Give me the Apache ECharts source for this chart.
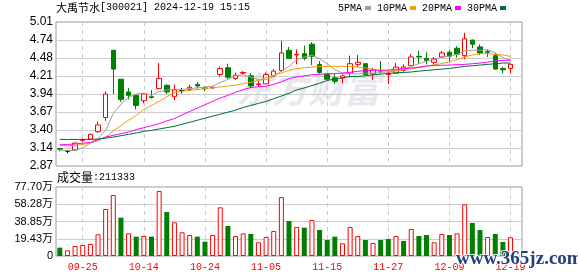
<!DOCTYPE html>
<html><head><meta charset="utf-8">
<script src="https://cdn.jsdelivr.net/npm/echarts@6/dist/echarts.min.js"></script>
<style>html,body{margin:0;padding:0;background:#fff;}#c{width:578px;height:276px;}</style>
</head><body><div id="c"></div>
<script>
const titleName = '大禹节水';
const titleInfo = '[300021] 2024-12-19 15:15';
const volLabel = '成交量';
const volLast = ':211333';
const dates = ['09-20','09-23','09-24','09-25','09-26','09-27','09-30','10-08','10-09','10-10','10-11','10-14','10-15','10-16','10-17','10-18','10-21','10-22','10-23','10-24','10-25','10-28','10-29','10-30','10-31','11-01','11-04','11-05','11-06','11-07','11-08','11-11','11-12','11-13','11-14','11-15','11-18','11-19','11-20','11-21','11-22','11-25','11-26','11-27','11-28','11-29','12-02','12-03','12-04','12-05','12-06','12-09','12-10','12-11','12-12','12-13','12-16','12-17','12-18','12-19'];
const open  = [3.13,3.09,3.11,3.25,3.27,3.38,3.59,4.59,4.16,3.97,3.92,3.84,3.90,4.02,4.07,3.90,3.99,4.01,4.08,4.03,4.03,4.23,4.33,4.17,4.25,4.21,4.08,4.09,4.21,4.29,4.59,4.52,4.54,4.68,4.38,4.23,4.18,4.18,4.25,4.38,4.39,4.24,4.29,4.23,4.25,4.29,4.36,4.50,4.47,4.41,4.49,4.56,4.62,4.51,4.74,4.64,4.57,4.51,4.32,4.32];
const close = [3.12,3.09,3.21,3.26,3.34,3.48,3.94,4.31,3.86,3.92,3.77,3.94,3.89,4.17,3.97,4.00,3.99,4.04,4.06,4.02,4.04,4.32,4.19,4.22,4.26,4.06,4.09,4.23,4.28,4.55,4.47,4.53,4.47,4.50,4.26,4.16,4.13,4.21,4.39,4.41,4.23,4.30,4.28,4.25,4.34,4.34,4.49,4.49,4.44,4.46,4.55,4.50,4.53,4.76,4.68,4.55,4.56,4.31,4.30,4.38];
const low   = [3.09,3.06,3.10,3.23,3.26,3.36,3.54,3.94,3.82,3.86,3.71,3.80,3.87,4.01,3.94,3.85,3.95,3.985,4.02,3.98,4.02,4.20,4.16,4.15,4.22,4.03,4.05,4.09,4.19,4.27,4.46,4.38,4.44,4.37,4.24,4.15,4.09,4.10,4.19,4.34,4.22,4.15,4.24,4.09,4.24,4.27,4.36,4.39,4.38,4.38,4.48,4.42,4.48,4.46,4.62,4.52,4.49,4.30,4.25,4.25];
const high  = [3.14,3.11,3.22,3.28,3.35,3.53,3.98,4.59,4.16,4.03,3.93,3.95,4.00,4.40,4.08,4.08,4.03,4.08,4.12,4.05,4.06,4.35,4.39,4.26,4.28,4.25,4.13,4.26,4.31,4.73,4.64,4.60,4.66,4.71,4.43,4.24,4.24,4.23,4.51,4.52,4.40,4.33,4.43,4.27,4.40,4.38,4.53,4.58,4.56,4.49,4.58,4.59,4.65,4.85,4.75,4.68,4.60,4.55,4.34,4.38];
const ma5  = [3.11,3.10,3.10,3.14,3.21,3.275,3.40,3.65,3.79,3.89,3.94,3.955,3.92,3.975,4.00,4.01,4.01,4.02,4.03,4.045,4.055,4.11,4.16,4.21,4.227,4.19,4.153,4.153,4.20,4.28,4.35,4.45,4.49,4.515,4.465,4.39,4.30,4.25,4.24,4.24,4.25,4.25,4.26,4.27,4.28,4.306,4.35,4.39,4.43,4.45,4.49,4.50,4.53,4.58,4.59,4.59,4.60,4.55,4.48,4.44];
const ma10 = [3.177,3.172,3.177,3.19,3.21,3.25,3.30,3.39,3.47,3.55,3.62,3.71,3.77,3.83,3.90,3.96,3.985,3.995,4.005,4.02,4.035,4.044,4.06,4.07,4.094,4.113,4.143,4.183,4.217,4.252,4.292,4.317,4.331,4.34,4.35,4.35,4.35,4.35,4.35,4.34,4.326,4.306,4.29,4.282,4.292,4.30,4.317,4.331,4.35,4.376,4.39,4.42,4.45,4.49,4.52,4.54,4.54,4.53,4.52,4.50];
const ma20 = [3.192,3.19,3.197,3.21,3.22,3.26,3.30,3.325,3.35,3.375,3.41,3.44,3.47,3.50,3.54,3.575,3.63,3.68,3.73,3.78,3.83,3.88,3.92,3.965,4.005,4.035,4.05,4.055,4.085,4.12,4.17,4.193,4.21,4.227,4.232,4.242,4.242,4.25,4.262,4.277,4.287,4.292,4.292,4.297,4.306,4.316,4.326,4.34,4.356,4.366,4.366,4.37,4.376,4.38,4.39,4.40,4.415,4.43,4.44,4.44];
const ma30 = [3.265,3.265,3.265,3.265,3.265,3.27,3.285,3.30,3.32,3.34,3.36,3.385,3.40,3.42,3.44,3.46,3.49,3.52,3.55,3.58,3.61,3.64,3.67,3.70,3.74,3.77,3.80,3.83,3.87,3.91,3.95,4.00,4.03,4.065,4.10,4.14,4.165,4.18,4.20,4.20,4.21,4.225,4.235,4.245,4.255,4.26,4.267,4.28,4.29,4.30,4.31,4.32,4.335,4.35,4.36,4.37,4.38,4.39,4.40,4.40];
const vol  = [9.4,6.4,11.3,12.4,13.5,24.4,52.9,68.7,43.2,25.5,21.8,22.5,21.8,73.2,49.5,37.9,26.7,23.6,21.8,16.1,23.6,54.8,33.8,22.5,25.5,24.8,15.4,21.4,28.2,66.4,39.4,32.7,31.9,40.5,29.3,18.0,21.8,14.3,32.7,22.5,18.0,14.6,18.0,19.1,22.5,16.9,30.4,22.5,23.6,15.4,24.8,23.6,25.5,58.2,37.2,29.3,21.4,24.8,15.8,21.1333];
const volUp = [0,1,1,1,1,1,1,1,0,1,0,1,0,1,0,1,1,1,0,0,1,1,0,1,1,0,1,1,1,1,0,1,0,1,0,0,0,1,1,1,0,1,0,0,1,0,1,0,0,1,1,0,1,1,0,0,1,0,0,1];
const priceTicks = ['2.87','3.14','3.40','3.67','3.94','4.21','4.48','4.74','5.01'];
const volTicks = ['0','19.43万','38.85万','58.28万','77.70万'];
const maNames = ['5PMA','10PMA','20PMA','30PMA'];

const PMIN = 2.87, PMAX = 5.01, PINT = 0.2675;
const VMAX = 77.70, VINT = 19.425;
const cats = dates.concat(['']);
const showIdx = (i) => i % 8 === 3;

const UP = '#ff0000', DN = '#008000';
const candleData = dates.map((d, i) => {
  const item = { value: [open[i], close[i], low[i], high[i]] };
  if (open[i] === close[i]) item.itemStyle = { color: '#000', color0: '#000', borderColor: '#000', borderColor0: '#000' };
  return item;
});
const volData = dates.map((d, i) => ({
  value: vol[i],
  itemStyle: volUp[i] ? { color: '#fff', borderColor: UP, borderWidth: 1 } : { color: DN, borderColor: DN, borderWidth: 0 }
}));

const chart = echarts.init(document.getElementById('c'), null, { renderer: 'canvas' });
const gridLine = { color: '#cccccc', width: 1 };
const maColors = ['#a0a0a0', '#f0a000', '#ff00ff', '#006b35'];
const maData = [ma5, ma10, ma20, ma30];

chart.setOption({
  animation: false,
  backgroundColor: '#fff',
  title: {
    text: '{a|' + titleName + '}{b|' + titleInfo + '}',
    left: 56, top: 2, padding: 0,
    textStyle: { rich: {
      a: { fontFamily: 'Noto Sans CJK SC', fontSize: 11, fontWeight: 'normal', color: '#000' },
      b: { fontFamily: 'Liberation Mono', fontSize: 10, fontWeight: 'normal', color: '#000' }
    } }
  },
  legend: {
    data: maNames, left: 338, top: 3, padding: 0, itemGap: 6,
    icon: 'rect', itemWidth: 6, itemHeight: 4, align: 'right', selectedMode: false,
    textStyle: { fontFamily: 'Liberation Mono', fontSize: 10, color: '#000', padding: [0, -2, 0, 0] }
  },
  grid: [
    { left: 56, right: 56, top: 22, height: 144, show: true, borderColor: '#999', borderWidth: 1, backgroundColor: 'transparent', outerBoundsMode: 'none' },
    { left: 56, right: 56, top: 187, height: 69, show: true, borderColor: '#999', borderWidth: 1, backgroundColor: 'transparent', outerBoundsMode: 'none' }
  ],
  xAxis: [
    { type: 'category', gridIndex: 0, data: cats, boundaryGap: true,
      axisLine: { show: false }, axisTick: { show: false }, axisLabel: { show: false },
      splitLine: { show: true, interval: showIdx, alignWithLabel: true, lineStyle: { color: '#cccccc', type: [4, 4] } } },
    { type: 'category', gridIndex: 1, data: cats, boundaryGap: true,
      axisLine: { show: false }, axisTick: { show: false },
      axisLabel: { show: true, interval: showIdx, color: '#ff0000', fontFamily: 'Liberation Mono', fontSize: 10, margin: 6 },
      splitLine: { show: true, interval: showIdx, alignWithLabel: true, lineStyle: { color: '#cccccc', type: [4, 4] } } }
  ],
  yAxis: [
    { type: 'value', gridIndex: 0, min: PMIN, max: PMAX, interval: PINT, scale: true,
      axisLine: { show: false }, axisTick: { show: false },
      axisLabel: { margin: 3, color: '#000', fontFamily: 'Liberation Sans', fontSize: 12,
        formatter: (v) => priceTicks[Math.round((v - PMIN) / PINT)] },
      splitLine: { show: true, showMinLine: false, showMaxLine: false, lineStyle: gridLine } },
    { type: 'value', gridIndex: 1, min: 0, max: VMAX, interval: VINT,
      axisLine: { show: false }, axisTick: { show: false },
      axisLabel: { margin: 3, color: '#000', fontFamily: 'Liberation Sans, Noto Sans CJK SC', fontSize: 11,
        formatter: (v) => volTicks[Math.round(v / VINT)] },
      splitLine: { show: true, showMinLine: false, showMaxLine: false, lineStyle: gridLine } }
  ],
  graphic: [
    { type: 'text', left: 236, top: 71, z: -10, silent: true,
      style: { text: '东方财富', font: 'italic bold 36px "Noto Sans CJK SC"', fill: '#e8e8ee' } },
    { type: 'text', left: 57, top: 171, z: 10, silent: true,
      style: { text: '{a|' + volLabel + '}{b|' + volLast + '}',
        rich: { a: { fontFamily: 'Noto Sans CJK SC', fontSize: 12, fill: '#000' },
                b: { fontFamily: 'Liberation Mono', fontSize: 10, fill: '#000' } } } },
    { type: 'text', left: 455, top: 249, z: 100, silent: true,
      style: { text: 'www.365jz.com', font: 'bold 19px "Liberation Serif"', fill: '#22407f', stroke: 'rgba(255,255,255,0.85)', lineWidth: 2 } }
  ],
  series: [
    { name: 'K', type: 'candlestick', xAxisIndex: 0, yAxisIndex: 0, data: candleData, barWidth: 5,
      itemStyle: { color: '#fff', color0: DN, borderColor: UP, borderColor0: DN, borderWidth: 1 } },
    ...maNames.map((n, k) => ({
      name: n, type: 'line', xAxisIndex: 0, yAxisIndex: 0, data: maData[k], symbol: 'none', z: 3,
      itemStyle: { color: maColors[k] }, lineStyle: { color: maColors[k], width: 1 }
    })),
    { name: 'VOL', type: 'bar', xAxisIndex: 1, yAxisIndex: 1, data: volData, barWidth: 5 }
  ]
});
</script></body></html>
